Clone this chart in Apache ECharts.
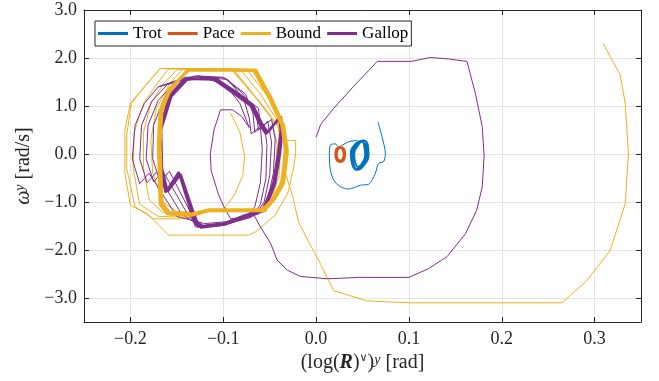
<!DOCTYPE html>
<html>
<head>
<meta charset="utf-8">
<script src="https://cdn.jsdelivr.net/npm/echarts@6/dist/echarts.min.js"></script>
<style>
  html, body { margin: 0; padding: 0; background: #fff; }
  #myChart { width: 659px; height: 381px; }
</style>
</head>
<body>
<div id="myChart"></div>
<script>
// gait names (legend order)
var gaits = ['Trot', 'Pace', 'Bound', 'Gallop'];
var xTicks = [-0.2, -0.1, 0.0, 0.1, 0.2, 0.3];
var yTicks = [-3, -2, -1, 0, 1, 2, 3];

// Trot: thin transient + small limit cycle
var trotPath = [[0.0667,0.66],[0.071,0.36],[0.0746,0.01],[0.0728,-0.16],[0.0674,-0.195],[0.0638,-0.40],[0.0566,-0.63],
    [0.0477,-0.65],[0.0351,-0.73],[0.0262,-0.68],[0.0189,-0.54],[0.0154,-0.33],[0.0143,-0.06],[0.0154,0.19],
    [0.0208,0.21],[0.0243,0.15],[0.0334,0.24],[0.0423,0.28],[0.0495,0.24]];
var trotLoops = [[0.050,0.26],[0.054,0.15],[0.0545,-0.02],[0.051,-0.20],[0.044,-0.31],[0.040,-0.20],[0.039,0.00],[0.043,0.18],
    [0.050,0.26],[0.052,0.15],[0.053,-0.02],[0.050,-0.18],[0.045,-0.27],[0.042,-0.17],[0.041,0.00],[0.044,0.15],
    [0.051,0.28],[0.056,0.15],[0.0565,-0.03],[0.052,-0.22],[0.044,-0.33],[0.039,-0.22],[0.0375,0.00],[0.042,0.20],[0.051,0.28]];

// Pace: small limit cycle
var paceLoops = [[0.026,0.14],[0.030,0.10],[0.031,0.00],[0.030,-0.11],[0.026,-0.16],[0.022,-0.11],[0.021,0.00],[0.022,0.10],
    [0.026,0.14],[0.029,0.09],[0.030,-0.01],[0.029,-0.10],[0.026,-0.14],[0.023,-0.10],[0.022,-0.01],[0.023,0.09],[0.026,0.14]];

// Bound: transient loops, then outer loop and exit to the right
var boundStart = [[-0.092,0.85],[-0.082,0.45],[-0.077,-0.05],[-0.079,-0.45],[-0.088,-0.85],[-0.100,-1.17],[-0.125,-1.22],
    [-0.150,-1.20],[-0.165,-1.00],[-0.176,-0.40],[-0.178,0.30],[-0.172,0.95],[-0.158,1.45],[-0.144,1.77],[-0.090,1.77],
    [-0.068,1.25],[-0.048,0.75],[-0.042,0.20],[-0.044,-0.45],[-0.052,-0.95],[-0.062,-1.17],[-0.110,-1.17],[-0.135,-1.28],
    [-0.165,-1.22],[-0.180,-0.95],[-0.186,-0.30],[-0.186,0.45],[-0.178,1.05],[-0.165,1.45],[-0.149,1.77],[-0.082,1.77],
    [-0.060,1.25],[-0.042,0.70],[-0.038,0.20],[-0.040,-0.45],[-0.048,-0.95],[-0.058,-1.17],[-0.112,-1.17],[-0.135,-1.32],
    [-0.170,-1.30],[-0.190,-1.05],[-0.197,-0.30],[-0.196,0.45],[-0.186,1.05],[-0.170,1.50],[-0.159,1.77],[-0.075,1.77],
    [-0.052,1.20],[-0.040,0.72],[-0.034,0.20],[-0.036,-0.45],[-0.045,-0.95],[-0.056,-1.17]];
var boundEnd = [[-0.063,-1.20],[-0.120,-1.20],[-0.140,-1.35],[-0.175,-1.35],[-0.195,-1.10],[-0.204,-0.30],[-0.204,0.40],
    [-0.199,1.05],[-0.183,1.45],[-0.168,1.78],[-0.092,1.78],[-0.062,1.10],[-0.040,0.55],[-0.035,0.29],[-0.022,0.28],
    [-0.022,0.01],[-0.024,-0.27],[-0.030,-0.79],[-0.044,-1.27],[-0.065,-1.62],[-0.073,-1.69],[-0.159,-1.69],[-0.182,-1.24],
    [-0.200,-1.07],[-0.206,-0.40],[-0.206,0.50],[-0.200,1.06],[-0.178,1.55],[-0.168,1.78],[-0.130,1.78],[-0.090,1.78],
    [-0.055,0.95],[-0.036,0.45],[-0.030,0.00],[-0.033,-0.40],[-0.025,-0.90],[-0.019,-1.41],[-0.008,-1.83],[0.005,-2.30],
    [0.019,-2.85],[0.055,-3.06],[0.100,-3.10],[0.265,-3.10],[0.292,-2.63],[0.317,-2.00],[0.333,-1.03],[0.3365,0.01],
    [0.333,1.06],[0.3275,1.65],[0.309,2.31]];
// Bound limit cycle (drawn thick)
var boundCycle = [[-0.137,1.75],[-0.065,1.75],[-0.048,1.15],[-0.035,0.60],[-0.031,0.08],[-0.035,-0.61],[-0.045,-0.95],
    [-0.056,-1.18],[-0.117,-1.18],[-0.135,-1.28],[-0.160,-1.25],[-0.168,-1.05],[-0.170,0.20],[-0.168,0.92],[-0.159,1.34],
    [-0.137,1.75],[-0.139,1.74],[-0.067,1.74],[-0.050,1.15],[-0.037,0.60],[-0.033,0.08],[-0.037,-0.60],[-0.047,-0.95],
    [-0.058,-1.16],[-0.115,-1.16],[-0.134,-1.25],[-0.158,-1.22],[-0.166,-1.02],[-0.168,0.20],[-0.166,0.92],[-0.157,1.34],
    [-0.139,1.74]];

// Gallop: transient loops, inner crossing and exit to the right
var gallopLoop1 = [[-0.170,1.40],[-0.140,1.60],[-0.110,1.60],[-0.085,1.30],[-0.062,0.95],[-0.060,0.55],[-0.048,0.72],
    [-0.044,0.30],[-0.046,-0.40],[-0.052,-0.95],[-0.062,-1.25],[-0.090,-1.40],[-0.120,-1.45],[-0.150,-1.30],[-0.180,-0.40],
    [-0.190,-0.62],[-0.198,-0.10],[-0.195,0.60],[-0.185,1.05],[-0.170,1.40]];
var gallopLoop2 = [[-0.160,1.45],[-0.132,1.62],[-0.100,1.60],[-0.080,1.28],[-0.065,0.90],[-0.062,0.50],[-0.052,0.68],
    [-0.048,0.25],[-0.050,-0.45],[-0.056,-1.00],[-0.066,-1.28],[-0.095,-1.45],[-0.125,-1.50],[-0.145,-1.25],[-0.172,-0.38],
    [-0.182,-0.60],[-0.190,-0.10],[-0.188,0.60],[-0.177,1.10],[-0.160,1.45]];
var gallopLoop3 = [[-0.152,1.50],[-0.128,1.63],[-0.098,1.58],[-0.076,1.25],[-0.068,0.85],[-0.066,0.45],[-0.056,0.62],
    [-0.053,0.20],[-0.054,-0.50],[-0.060,-1.05],[-0.070,-1.32],[-0.100,-1.48],[-0.128,-1.52],[-0.140,-1.20],[-0.165,-0.36],
    [-0.175,-0.58],[-0.183,-0.10],[-0.181,0.60],[-0.170,1.12],[-0.152,1.50]];
var gallopLoop4 = [[-0.145,1.52],[-0.120,1.60],[-0.095,1.55],[-0.078,1.15],[-0.072,0.75],[-0.070,0.42],[-0.060,0.58],
    [-0.058,0.10],[-0.060,-0.60],[-0.066,-1.10],[-0.078,-1.35],[-0.105,-1.50],[-0.130,-1.52],[-0.137,-1.15],[-0.158,-0.36],
    [-0.168,-0.58],[-0.176,-0.10],[-0.175,0.60],[-0.164,1.15],[-0.145,1.52]];
var gallopExit = [[-0.120,1.58],[-0.098,1.45],[-0.082,1.05],[-0.072,0.55],[-0.080,0.78],[-0.090,0.92],[-0.103,0.92],
    [-0.110,0.50],[-0.114,0.00],[-0.113,-0.35],[-0.105,-0.85],[-0.098,-1.15],[-0.092,-1.35],[-0.075,-1.32],[-0.067,-1.27],
    [-0.060,-1.52],[-0.049,-1.86],[-0.042,-2.21],[-0.031,-2.42],[-0.017,-2.55],[0.012,-2.60],[0.047,-2.57],[0.100,-2.57],
    [0.121,-2.39],[0.141,-2.14],[0.161,-1.66],[0.173,-1.17],[0.179,-0.68],[0.181,-0.04],[0.179,0.57],[0.1715,1.27],
    [0.1625,1.93],[0.143,1.98],[0.123,2.01],[0.103,1.93],[0.066,1.93],[0.040,1.40],[0.019,0.95],[0.005,0.62],[0.000,0.35]];
// Gallop limit cycle (drawn thick)
var gallopCycle = [[-0.141,1.57],[-0.108,1.57],[-0.088,1.30],[-0.068,1.02],[-0.058,0.62],[-0.052,0.45],[-0.045,0.62],
    [-0.038,0.78],[-0.036,0.55],[-0.039,0.00],[-0.044,-0.60],[-0.055,-1.18],[-0.075,-1.30],[-0.098,-1.47],[-0.124,-1.53],
    [-0.130,-1.45],[-0.134,-1.24],[-0.148,-0.38],[-0.162,-0.80],[-0.168,-0.30],[-0.169,0.50],[-0.158,1.20],[-0.141,1.57],
    [-0.139,1.55],[-0.110,1.55],[-0.090,1.28],[-0.070,1.00],[-0.060,0.60],[-0.054,0.42],[-0.046,0.60],[-0.040,0.75],
    [-0.038,0.52],[-0.041,0.00],[-0.046,-0.60],[-0.057,-1.16],[-0.077,-1.28],[-0.100,-1.45],[-0.122,-1.50],[-0.128,-1.42],
    [-0.132,-1.22],[-0.146,-0.42],[-0.160,-0.78],[-0.166,-0.30],[-0.167,0.50],[-0.156,1.20],[-0.139,1.55]];

var colors = { Trot: '#0072BD', Pace: '#D95319', Bound: '#EDB120', Gallop: '#7E2F8E' };
var FONT = 'Liberation Serif';
var AX = '#262626';

function fmt(v) {
    var s = Math.abs(v).toFixed(1);
    return (v < -1e-9 ? '\u2212' : '') + s;
}

function line(name, data, width, smooth) {
    return {
        name: name, type: 'line', data: data,
        showSymbol: false, symbol: 'none', smooth: smooth || false,
        color: colors[name],
        lineStyle: { width: width, color: colors[name] },
        animation: false
    };
}

var myChart = echarts.init(document.getElementById('myChart'));
var option = {
    backgroundColor: '#fff',
    textStyle: { fontFamily: FONT },
    animation: false,
    grid: { left: 84, right: 18, top: 10, bottom: 59 },
    legend: {
        data: gaits,
        left: 95, top: 21,
        orient: 'horizontal',
        icon: 'rect',
        itemWidth: 30, itemHeight: 3,
        itemGap: 6,
        padding: [4, 3, 4, 3],
        backgroundColor: '#fff',
        borderColor: AX, borderWidth: 1,
        textStyle: { fontFamily: FONT, fontSize: 17, color: '#000' }
    },
    xAxis: [{
        type: 'value', min: -0.25, max: 0.35, splitNumber: 6,
        position: 'bottom',
        axisLine: { show: true, onZero: false, lineStyle: { color: AX, width: 1 } },
        axisTick: { show: true, inside: true, length: 5, lineStyle: { color: AX } },
        axisLabel: { formatter: fmt, showMinLabel: false, showMaxLabel: false, margin: 8,
            fontFamily: FONT, fontSize: 18, color: '#262626' },
        splitLine: { show: true, lineStyle: { color: '#e3e3e3', width: 1 } },
        name: '(log({bi|R}){sup|\u2228}){supi|y} [rad]',
        nameLocation: 'middle', nameGap: 16,
        nameTextStyle: {
            fontFamily: FONT, fontSize: 20, color: '#262626',
            rich: {
                bi: { fontFamily: FONT, fontSize: 20, fontWeight: 'bold', fontStyle: 'italic', color: '#262626' },
                sup: { fontFamily: 'DejaVu Serif', fontSize: 11, verticalAlign: 'top', color: '#262626' },
                supi: { fontFamily: FONT, fontSize: 14, fontStyle: 'italic', verticalAlign: 'top', color: '#262626' }
            }
        }
    }, {
        type: 'value', min: -0.25, max: 0.35, splitNumber: 6,
        position: 'top',
        axisLine: { show: true, onZero: false, lineStyle: { color: AX, width: 1 } },
        axisTick: { show: true, inside: true, length: 5, lineStyle: { color: AX } },
        axisLabel: { show: false },
        splitLine: { show: false }
    }],
    yAxis: [{
        type: 'value', min: -3.5, max: 3.0, splitNumber: 7,
        position: 'left',
        axisLine: { show: true, onZero: false, lineStyle: { color: AX, width: 1 } },
        axisTick: { show: true, inside: true, length: 5, lineStyle: { color: AX } },
        axisLabel: { formatter: fmt, showMinLabel: false, margin: 7,
            fontFamily: FONT, fontSize: 18, color: '#262626' },
        splitLine: { show: true, lineStyle: { color: '#e3e3e3', width: 1 } },
        name: '{w|\u03c9}{supi|y} [rad/s]',
        nameLocation: 'middle', nameGap: 49, nameRotate: 90,
        nameTextStyle: {
            fontFamily: FONT, fontSize: 20, color: '#262626',
            rich: {
                w: { fontFamily: FONT, fontSize: 20, fontStyle: 'italic', color: '#262626' },
                supi: { fontFamily: FONT, fontSize: 14, fontStyle: 'italic', verticalAlign: 'top', color: '#262626' }
            }
        }
    }, {
        type: 'value', min: -3.5, max: 3.0, splitNumber: 7,
        position: 'right',
        axisLine: { show: true, onZero: false, lineStyle: { color: AX, width: 1 } },
        axisTick: { show: true, inside: true, length: 5, lineStyle: { color: AX } },
        axisLabel: { show: false },
        splitLine: { show: false }
    }],
    series: [
        line('Trot', trotPath, 1, 0.3),
        line('Trot', trotLoops, 2, 0.5),
        line('Pace', paceLoops, 2.5, 0.5),
        line('Bound', boundStart.concat(boundEnd), 1),
        line('Gallop', gallopLoop1.concat(gallopLoop2, gallopLoop3, gallopLoop4, gallopExit), 1),
        line('Gallop', gallopCycle, 2.5),
        line('Bound', boundCycle, 3)
    ]
};
myChart.setOption(option);
</script>
</body>
</html>
